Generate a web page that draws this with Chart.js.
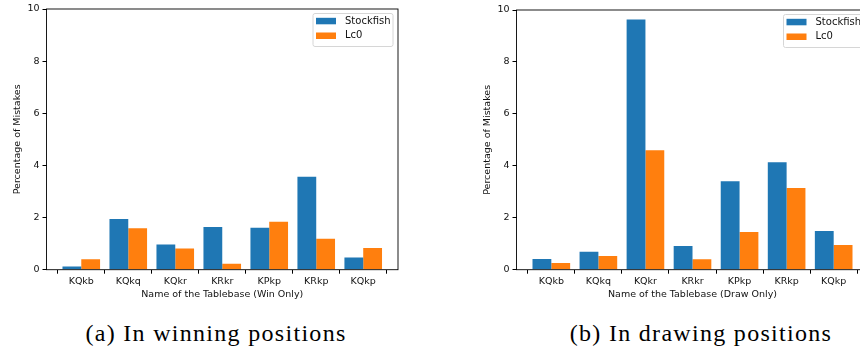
<!DOCTYPE html>
<html>
<head>
<meta charset="utf-8">
<script src="https://cdn.jsdelivr.net/npm/chart.js@4/dist/chart.umd.min.js"></script>
<style>
  body { margin: 0; width: 860px; height: 353px; overflow: hidden; background: #fff; position: relative; }
  .box { position: absolute; top: 0; height: 300px; }
  .cap { position: absolute; top: 320px; font-family: "Liberation Serif", serif; font-size: 24px; letter-spacing: 1.3px; color: #000; white-space: nowrap; transform: translateX(-50%); }
</style>
</head>
<body>
<div class="box" style="left:0;width:430px"><canvas id="win"></canvas></div>
<div class="box" style="left:430px;width:450px"><canvas id="draw"></canvas></div>
<div class="cap" style="left:216px">(a) In winning positions</div>
<div class="cap" style="left:701px">(b) In drawing positions</div>
<script>
const tablebases = ["KQkb", "KQkq", "KQkr", "KRkr", "KPkp", "KRkp", "KQkp"];
const yTicks = [0, 2, 4, 6, 8, 10];

const winStockfish = [0.12, 1.94, 0.97, 1.64, 1.61, 3.57, 0.47];
const winLc0 = [0.40, 1.59, 0.81, 0.23, 1.84, 1.19, 0.83];

const drawStockfish = [0.41, 0.69, 9.63, 0.91, 3.41, 4.14, 1.49];
const drawLc0 = [0.26, 0.53, 4.60, 0.40, 1.45, 3.15, 0.95];

const font = { family: "DejaVu Sans", size: 9.5 };
const ink = "#111";

// plot frame and an inside legend, matplotlib style
const frame = {
  id: "frame",
  afterDraw(chart) {
    const a = chart.chartArea;
    const c = chart.ctx;
    c.save();
    c.strokeStyle = "#000";
    c.lineWidth = 0.9;
    c.strokeRect(a.left, a.top, a.right - a.left, a.bottom - a.top);

    // legend box
    const bw = 80, bh = 33;
    const bx = a.right - 5.5 - bw;
    const by = a.top + 4;
    c.fillStyle = "rgba(255,255,255,0.8)";
    c.strokeStyle = "#d6d6d6";
    c.lineWidth = 1;
    c.beginPath();
    c.roundRect(bx + 0.5, by + 0.5, bw, bh, 2);
    c.fill();
    c.stroke();
    c.font = "10px 'DejaVu Sans'";
    c.textBaseline = "middle";
    chart.data.datasets.forEach((ds, i) => {
      const cy = by + 8 + i * 14.7;
      c.fillStyle = ds.backgroundColor;
      c.fillRect(bx + 3.5, cy - 3.2, 20, 6.5);
      c.fillStyle = ink;
      c.fillText(ds.label, bx + 32.5, cy);
    });
    c.restore();
  },
};

const makeChart = (id, sf, lc, xTitle, pad) => {
  new Chart(id, {
    type: "bar",
    data: {
      datasets: [
        {
          label: "Stockfish",
          backgroundColor: "#1f77b4",
          data: sf.map((v, i) => ({ x: i, y: v })),
        },
        {
          label: "Lc0",
          backgroundColor: "#ff7f0e",
          data: lc.map((v, i) => ({ x: i, y: v })),
        },
      ],
    },
    options: {
      responsive: false,
      animation: false,
      devicePixelRatio: 1,
      categoryPercentage: 0.8,
      barPercentage: 1.0,
      layout: { padding: pad },
      plugins: {
        tooltip: { enabled: false },
        legend: { display: false },
      },
      scales: {
        x: {
          type: "linear",
          min: -0.74,
          max: 6.74,
          offset: false,
          afterBuildTicks: (s) => {
            s.ticks = tablebases.map((_, i) => ({ value: i }));
          },
          afterFit: (s) => {
            s.height = 30.3;
          },
          ticks: {
            font: font,
            color: ink,
            padding: 2,
            maxRotation: 0,
            autoSkip: false,
            callback: (v) => tablebases[v],
          },
          grid: { drawOnChartArea: false, tickLength: 4, color: "#000" },
          border: { display: false },
          title: { display: true, text: xTitle, font: font, color: ink, padding: 0 },
        },
        y: {
          min: 0,
          max: 10,
          afterBuildTicks: (s) => {
            s.ticks = yTicks.map((v) => ({ value: v }));
          },
          afterFit: (s) => {
            s.width = 46.5;
          },
          ticks: { font: font, color: ink, padding: 3 },
          grid: { drawOnChartArea: false, tickLength: 4, color: "#000" },
          border: { display: false },
          title: { display: true, text: "Percentage of Mistakes", font: font, color: ink, padding: { top: 12 } },
        },
      },
    },
    plugins: [frame],
  });
};

const setup = () => {
  const w = document.getElementById("win");
  w.width = 430; w.height = 300;
  const d = document.getElementById("draw");
  d.width = 450; d.height = 300;
  makeChart("win", winStockfish, winLc0, "Name of the Tablebase (Win Only)", { top: 9, right: 32, left: 0, bottom: 0 });
  makeChart("draw", drawStockfish, drawLc0, "Name of the Tablebase (Draw Only)", { top: 10, right: 11.5, left: 40, bottom: 0 });
};

setup();
</script>
</body>
</html>
